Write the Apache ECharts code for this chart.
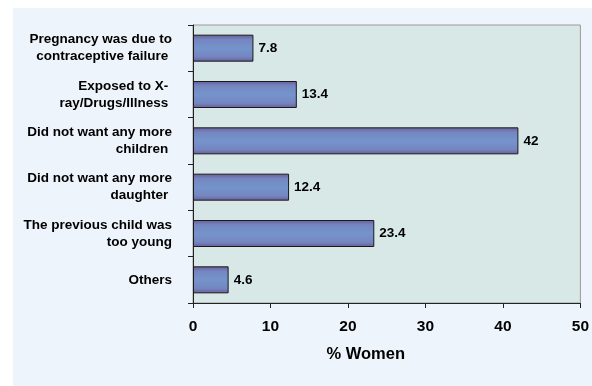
<!DOCTYPE html>
<html><head><meta charset="utf-8">
<script src="https://cdn.jsdelivr.net/npm/echarts@6/dist/echarts.min.js"></script>
<style>html,body{margin:0;padding:0;background:#fff;}#c{width:592px;height:386px;}</style>
</head><body><div id="c"></div>
<script>
const categories = [
  "Pregnancy was due to\ncontraceptive failure ",
  "Exposed to X- \nray/Drugs/Illness ",
  "Did not want any more\nchildren ",
  "Did not want any more\ndaughter ",
  "The previous child was\ntoo young",
  "Others"
];
const values = [7.8, 13.4, 42, 12.4, 23.4, 4.6];
const xTicks = [0, 10, 20, 30, 40, 50];
const axisName = "% Women";

const chart = echarts.init(document.getElementById('c'), null, {renderer: 'canvas'});
const font = '"Liberation Sans", Arial, sans-serif';
chart.setOption({
  animation: false,
  graphic: [{
    type: 'rect', z: -10, silent: true,
    shape: {x: 13, y: 8, width: 579, height: 378},
    style: {fill: '#EEF4FB'}
  }],
  grid: {
    left: 193, right: 11, top: 25, bottom: 83,
    show: true, backgroundColor: '#D8E8E6', borderColor: '#9A9A9A', borderWidth: 1
  },
  xAxis: {
    type: 'value', min: xTicks[0], max: xTicks[xTicks.length - 1], interval: 10,
    splitLine: {show: false},
    axisLine: {show: true, lineStyle: {color: '#222', width: 1}},
    axisTick: {show: true, length: 5, lineStyle: {color: '#222'}},
    axisLabel: {color: '#000', fontFamily: font, fontWeight: 'bold', fontSize: 15.5, margin: 16},
    name: axisName, nameLocation: 'middle', nameGap: 43,
    nameTextStyle: {color: '#000', fontFamily: font, fontWeight: 'bold', fontSize: 16.5, padding: [0, 42, 0, 0]}
  },
  yAxis: {
    type: 'category', data: categories, inverse: true,
    axisLine: {show: true, lineStyle: {color: '#222', width: 1}},
    axisTick: {show: true, length: 5, lineStyle: {color: '#222'}},
    axisLabel: {color: '#000', fontFamily: font, fontWeight: 'bold', fontSize: 13.5, lineHeight: 17, margin: 21, align: 'right'}
  },
  series: [{
    type: 'bar', data: values, barWidth: 27,
    itemStyle: {
      borderColor: '#1a1a1a', borderWidth: 1,
      color: new echarts.graphic.LinearGradient(0, 0, 0, 1, [
        {offset: 0, color: '#6A5C98'},
        {offset: 0.18, color: '#7486C0'},
        {offset: 0.5, color: '#7594CC'},
        {offset: 0.82, color: '#7486C0'},
        {offset: 1, color: '#6A5C98'}
      ])
    },
    label: {show: true, position: 'right', distance: 5, color: '#000', fontFamily: font, fontWeight: 'bold', fontSize: 13.5}
  }]
});
</script></body></html>
